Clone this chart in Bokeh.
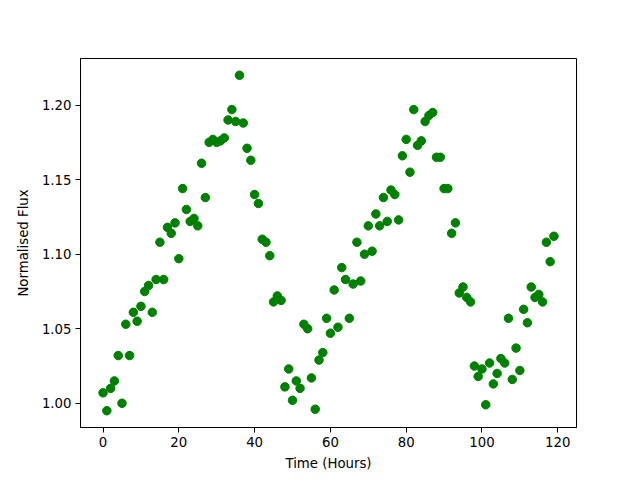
from bokeh.plotting import figure
from bokeh.models import FixedTicker, Range1d, NumeralTickFormatter
from bokeh.embed import file_html
from bokeh.resources import INLINE

hours = list(range(120))
flux = [
    1.007, 0.995, 1.010, 1.015, 1.032, 1.000, 1.053, 1.032, 1.061, 1.055,
    1.065, 1.075, 1.079, 1.061, 1.083, 1.108, 1.083, 1.118, 1.114, 1.121,
    1.097, 1.144, 1.130, 1.122, 1.124, 1.119, 1.161, 1.138, 1.175, 1.177,
    1.175, 1.176, 1.178, 1.190, 1.197, 1.189, 1.220, 1.188, 1.171, 1.163,
    1.140, 1.134, 1.110, 1.108, 1.099, 1.068, 1.072, 1.069, 1.011, 1.023,
    1.002, 1.015, 1.010, 1.053, 1.050, 1.017, 0.996, 1.029, 1.034, 1.057,
    1.047, 1.076, 1.051, 1.091, 1.083, 1.057, 1.080, 1.108, 1.082, 1.100,
    1.119, 1.102, 1.127, 1.119, 1.138, 1.122, 1.143, 1.140, 1.123, 1.166,
    1.177, 1.155, 1.197, 1.173, 1.176, 1.189, 1.193, 1.195, 1.165, 1.165,
    1.144, 1.144, 1.114, 1.121, 1.074, 1.078, 1.071, 1.068, 1.025, 1.018,
    1.023, 0.999, 1.027, 1.013, 1.020, 1.030, 1.027, 1.057, 1.016, 1.037,
    1.022, 1.063, 1.054, 1.078, 1.071, 1.073, 1.068, 1.108, 1.095, 1.112,
]
x_ticks = [0, 20, 40, 60, 80, 100, 120]
y_ticks = [1.00, 1.05, 1.10, 1.15, 1.20]

xpad = (max(hours) - min(hours)) * 0.05
ypad = (max(flux) - min(flux)) * 0.05

p = figure(width=632, height=472, output_backend="svg", toolbar_location=None,
           x_range=Range1d(min(hours) - xpad, max(hours) + xpad),
           y_range=Range1d(min(flux) - ypad, max(flux) + ypad),
           min_border_left=80, min_border_right=56, min_border_top=58, min_border_bottom=45)
p.frame_width = 496
p.frame_height = 369

p.scatter(hours, flux, size=8.5, color="#008000", line_color="#008000")

p.xgrid.visible = False
p.ygrid.visible = False
p.outline_line_color = "black"
p.outline_line_width = 1
p.outline_line_alpha = 1
p.background_fill_color = "white"
p.border_fill_color = "white"

p.xaxis.ticker = FixedTicker(ticks=x_ticks)
p.yaxis.ticker = FixedTicker(ticks=y_ticks)
p.yaxis.formatter = NumeralTickFormatter(format="0.00")
p.xaxis.axis_label = "Time (Hours)"
p.yaxis.axis_label = "Normalised Flux"
for ax in (p.xaxis, p.yaxis):
    ax.axis_label_text_font = "DejaVu Sans"
    ax.axis_label_text_font_size = "13.3px"
    ax.axis_label_text_font_style = "normal"
    ax.major_label_text_font = "DejaVu Sans"
    ax.major_label_text_font_size = "13.3px"
    ax.major_label_text_color = "black"
    ax.axis_label_text_color = "black"
    ax.major_tick_in = 0
    ax.major_tick_out = 5
    ax.minor_tick_out = 0
    ax.minor_tick_in = 0
    ax.axis_line_color = "black"
    ax.major_tick_line_color = "black"
    ax.major_label_standoff = 4
p.xaxis.axis_label_standoff = 6
p.yaxis.axis_label_standoff = 8

open("out.html", "w").write(file_html(p, INLINE))
